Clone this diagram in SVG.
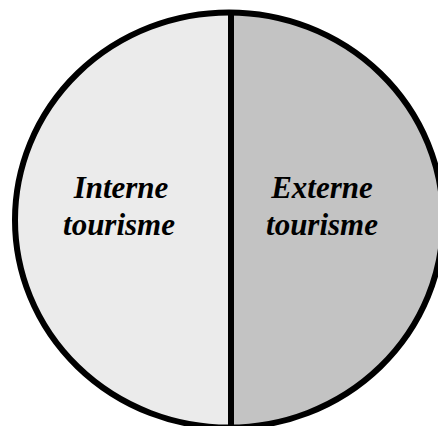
<svg xmlns="http://www.w3.org/2000/svg" width="438" height="426" viewBox="0 0 438 426">
<style>
.lbl{font-family:"Liberation Serif","Times New Roman",serif;font-weight:bold;font-style:italic;font-size:31px;fill:#000;text-anchor:middle}
.edge{fill:none;stroke:#000;stroke-width:6}
</style>
<rect width="438" height="426" fill="#fff"/>
<defs>
<clipPath id="c"><ellipse cx="229" cy="220" rx="214" ry="207.5"/></clipPath>
</defs>
<g id="left-half"><rect x="0" y="0" width="231" height="440" fill="#ebebeb" clip-path="url(#c)"/>
<text class="lbl" x="121" y="198">Interne</text><text class="lbl" x="119" y="235">tourisme</text></g>
<g id="right-half"><rect x="231" y="0" width="220" height="440" fill="#c3c3c3" clip-path="url(#c)"/>
<text class="lbl" x="322" y="198">Externe</text><text class="lbl" x="322" y="235">tourisme</text></g>
<g id="connectors">
<ellipse class="edge" cx="229" cy="220" rx="214" ry="207.5"/>
<line class="edge" x1="231" y1="12" x2="231" y2="430"/>
</g>
</svg>
